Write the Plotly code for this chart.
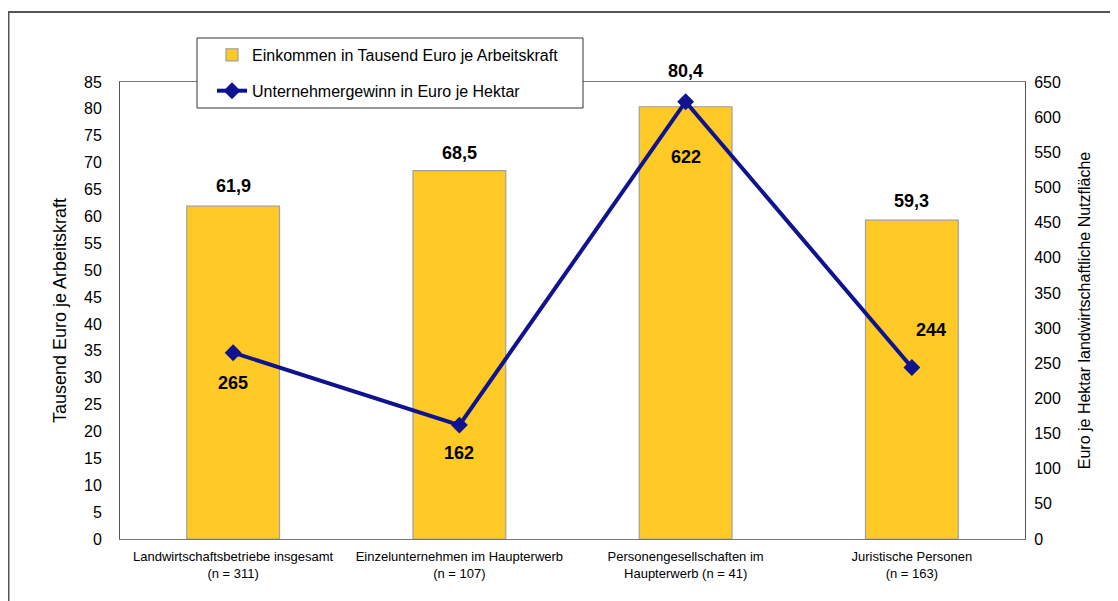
import plotly.graph_objects as go

categories = [
    "Landwirtschaftsbetriebe insgesamt<br>(n = 311)",
    "Einzelunternehmen im Haupterwerb<br>(n = 107)",
    "Personengesellschaften im<br>Haupterwerb (n = 41)",
    "Juristische Personen<br>(n = 163)",
]
einkommen = [61.9, 68.5, 80.4, 59.3]
gewinn = [265, 162, 622, 244]
left_ticks = list(range(0, 90, 5))
right_ticks = list(range(0, 700, 50))

FONT = "Liberation Sans, Arial, sans-serif"
BAR_COLOR = "#FFC926"
LINE_COLOR = "#0F1390"

# plot area geometry (figure pixels)
L, T, PW, PH = 112, 74, 905, 457
W, H = 1118, 601


def px(xpix):
    return (xpix - L) / PW


def py(ypix):
    return (T + PH - ypix) / PH


fig = go.Figure()
fig.add_trace(go.Bar(
    x=categories, y=einkommen,
    name="Einkommen in Tausend Euro je Arbeitskraft",
    legendgroup="a",
    marker=dict(color=BAR_COLOR, line=dict(color="#A0A0A0", width=1.2)),
    yaxis="y",
))
fig.add_trace(go.Scatter(
    x=categories, y=gewinn,
    name="Unternehmergewinn in Euro je Hektar",
    legendgroup="b",
    mode="lines+markers",
    line=dict(color=LINE_COLOR, width=4),
    marker=dict(symbol="diamond", size=13, color=LINE_COLOR),
    yaxis="y2",
))

# value labels for the bars
bar_shift = [20, 18, 36, 19]
for c, v, dy in zip(categories, einkommen, bar_shift):
    fig.add_annotation(
        x=c, y=v, xref="x", yref="y", text="<b>" + f"{v:.1f}".replace(".", ",") + "</b>",
        showarrow=False, yshift=dy,
        font=dict(family=FONT, size=18, color="black"),
    )

# value labels for the line
shifts = [(0, -30), (0, -28), (0, -55), (19, 37)]
for c, v, (dx, dy) in zip(categories, gewinn, shifts):
    fig.add_annotation(
        x=c, y=v, xref="x", yref="y2", text=f"<b>{v}</b>", showarrow=False,
        xshift=dx, yshift=dy,
        font=dict(family=FONT, size=18, color="black"),
    )

# outer frame
fig.add_shape(type="rect", xref="paper", yref="paper",
              x0=px(0.5), x1=px(W + 20), y0=py(H + 20), y1=py(4),
              line=dict(color="#555555", width=2), layer="below")
# legend box
fig.add_shape(type="rect", xref="paper", yref="paper",
              x0=px(189), x1=px(575), y0=py(100), y1=py(30),
              line=dict(color="#333333", width=1), fillcolor="white", layer="above")

fig.update_layout(
    width=W, height=H,
    margin=dict(l=L, r=W - L - PW, t=T, b=H - T - PH),
    paper_bgcolor="white", plot_bgcolor="white",
    font=dict(family=FONT, size=15, color="black"),
    bargap=0.59,
    showlegend=True,
    legend=dict(
        x=px(204), y=py(30),
        xanchor="left", yanchor="top",
        bgcolor="rgba(0,0,0,0)", borderwidth=0,
        font=dict(family=FONT, size=16, color="black"),
        tracegroupgap=12, itemwidth=30,
    ),
    xaxis=dict(
        showline=True, linecolor="#777777", linewidth=1, mirror=True,
        ticks="", tickfont=dict(family=FONT, size=13), ticklabelstandoff=5,
        showgrid=False,
    ),
    yaxis=dict(
        range=[0, 85], tickvals=left_ticks, showgrid=False,
        showline=True, linecolor="#555555", linewidth=1,
        ticks="", tickfont=dict(family=FONT, size=16), ticklabelstandoff=14,
        title=dict(text="Tausend Euro je Arbeitskraft",
                   font=dict(family=FONT, size=18), standoff=12),
        zeroline=False,
    ),
    yaxis2=dict(
        range=[0, 650], tickvals=right_ticks, overlaying="y", side="right",
        showgrid=False, showline=True, linecolor="#555555", linewidth=1,
        ticks="", tickfont=dict(family=FONT, size=16), ticklabelstandoff=5,
        title=dict(text="Euro je Hektar landwirtschaftliche Nutzfläche",
                   font=dict(family=FONT, size=16), standoff=18),
        zeroline=False,
    ),
)

fig.write_html("out.html")
